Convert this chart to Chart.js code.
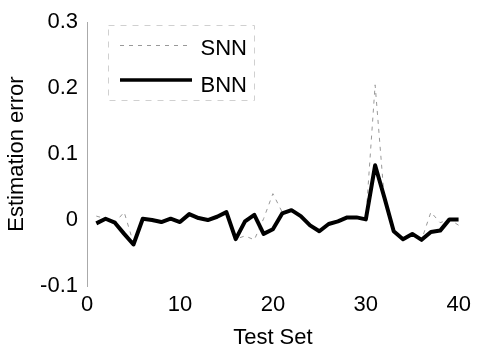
<!DOCTYPE html>
<html>
<head>
<meta charset="utf-8">
<script src="https://cdn.jsdelivr.net/npm/chart.js@4/dist/chart.umd.min.js"></script>
<style>
html,body{margin:0;padding:0;background:#fff;}
#c{display:block;}
</style>
</head>
<body>
<canvas id="c" width="477" height="351"></canvas>
<script>
const testSet = [1,2,3,4,5,6,7,8,9,10,11,12,13,14,15,16,17,18,19,20,21,22,23,24,25,26,27,28,29,30,31,32,33,34,35,36,37,38,39,40];
const bnn = [-0.005,0.002,-0.004,-0.021,-0.037,0.002,0.0,-0.003,0.002,-0.003,0.009,0.003,0.0,0.005,0.012,-0.029,-0.002,0.008,-0.021,-0.014,0.010,0.015,0.006,-0.008,-0.017,-0.006,-0.002,0.004,0.004,0.001,0.083,0.034,-0.017,-0.029,-0.021,-0.030,-0.018,-0.016,0.001,0.001];
const snn = [0.006,0.002,-0.004,0.012,-0.035,0.002,0.0,-0.003,0.002,-0.003,0.009,0.003,0.0,0.005,0.012,-0.029,-0.024,-0.030,0.002,0.040,0.012,0.015,0.006,-0.008,-0.017,-0.006,-0.002,0.004,0.004,0.001,0.205,0.030,-0.017,-0.029,-0.021,-0.030,0.012,-0.004,0.001,-0.008];
const xTicks = [0,10,20,30,40];
const yTicks = [-0.1,0,0.1,0.2,0.3];
const seriesNames = ['SNN','BNN'];

const FONT = {family: '"Liberation Sans", Arial, sans-serif', size: 22};

const legendPlugin = {
  id: 'innerLegend',
  afterDraw(chart) {
    const ctx = chart.ctx;
    ctx.save();
    // faint legend box
    ctx.strokeStyle = '#d0d0d0';
    ctx.lineWidth = 1;
    ctx.setLineDash([6,6]);
    ctx.strokeRect(108.5, 25.5, 146, 75);
    ctx.setLineDash([]);
    // SNN sample
    ctx.strokeStyle = '#999';
    ctx.lineWidth = 1;
    ctx.setLineDash([4,5]);
    ctx.beginPath(); ctx.moveTo(120, 45.5); ctx.lineTo(190, 45.5); ctx.stroke();
    ctx.setLineDash([]);
    // BNN sample
    ctx.strokeStyle = '#000';
    ctx.lineWidth = 3.5;
    ctx.beginPath(); ctx.moveTo(120, 80); ctx.lineTo(192, 80); ctx.stroke();
    ctx.fillStyle = '#000';
    ctx.font = '22px "Liberation Sans", Arial, sans-serif';
    ctx.textAlign = 'right';
    ctx.textBaseline = 'alphabetic';
    ctx.fillText(seriesNames[0], 247, 55);
    ctx.fillText(seriesNames[1], 247, 92);
    ctx.restore();
  }
};

new Chart(document.getElementById('c'), {
  type: 'line',
  data: {
    datasets: [
      {label: seriesNames[1], data: testSet.map((x,i)=>({x:x, y:bnn[i]})), borderColor:'#000', borderWidth:4, pointRadius:0, tension:0, order:0, borderJoinStyle:'round'},
      {label: seriesNames[0], data: testSet.map((x,i)=>({x:x, y:snn[i]})), borderColor:'#999', borderWidth:1, borderDash:[4,5], pointRadius:0, tension:0, order:1}
    ]
  },
  options: {
    responsive: false,
    animation: false,
    devicePixelRatio: 1,
    layout: {padding: {top: 20, right: 13, left: 0, bottom: 0}},
    plugins: {legend: {display:false}, tooltip: {enabled:false}},
    scales: {
      x: {
        type: 'linear', min: 0, max: 40,
        afterBuildTicks: s => { s.ticks = xTicks.map(v=>({value:v})); },
        afterFit: s => { s.height = 65; },
        grid: {display:false, drawTicks:false},
        border: {display:false},
        ticks: {font: FONT, color:'#000', padding: 6, maxRotation:0},
        title: {display:true, text:'Test Set', font: FONT, color:'#000', padding:{top:0,bottom:0}}
      },
      y: {
        type: 'linear', min: -0.1, max: 0.3,
        afterBuildTicks: s => { s.ticks = yTicks.map(v=>({value:v})); },
        afterFit: s => { s.width = 87; },
        grid: {display:false, drawTicks:false},
        border: {display:true, color:'#aaa', width:1},
        ticks: {font: FONT, color:'#000', padding: 9, callback: v => String(Math.round(v*10)/10)},
        title: {display:true, text:'Estimation error', font: FONT, color:'#000', padding:{top:4,bottom:0}}
      }
    }
  },
  plugins: [legendPlugin]
});
</script>
</body>
</html>
